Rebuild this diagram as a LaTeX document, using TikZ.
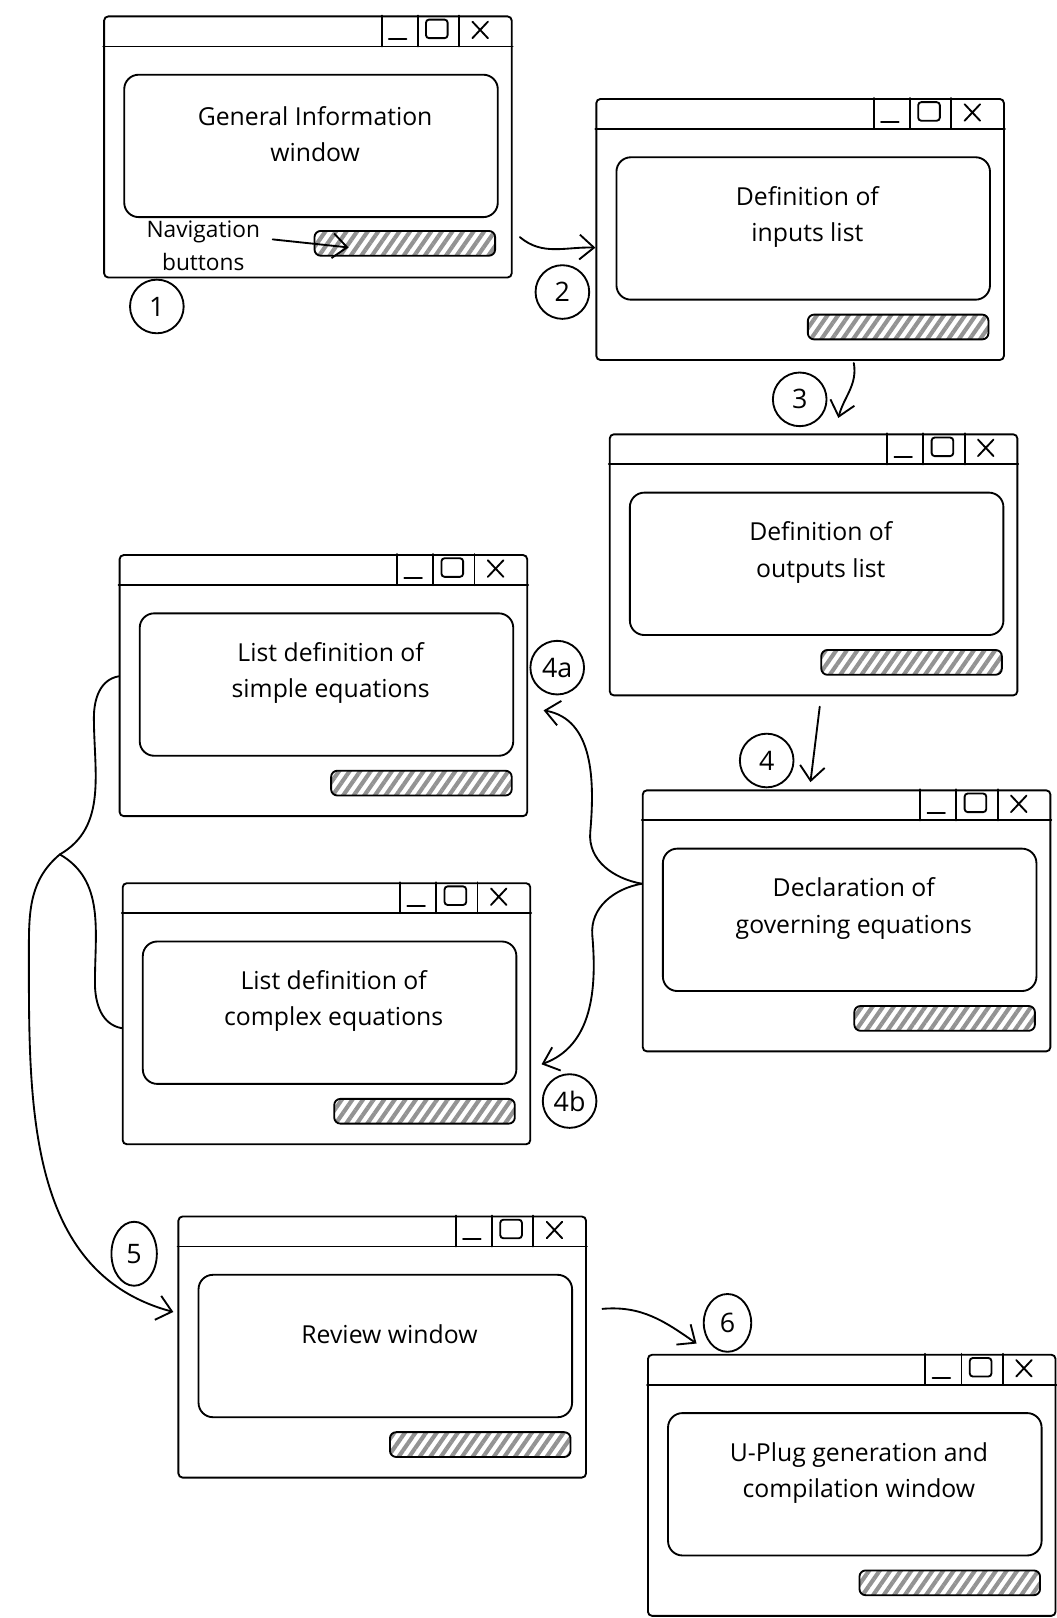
\documentclass[tikz,border=0pt]{standalone}
\usepackage{fontspec}
\setmainfont{Open Sans}
\usetikzlibrary{arrows.meta,patterns.meta,shapes.geometric}
\tikzset{
  font=\fontsize{12}{17.5}\selectfont,
  winline/.style={line width=0.9pt, line cap=round},
  appwin/.style={
    draw, winline, rounded corners=2pt, fill=white, anchor=north west,
    minimum width=197.5pt, minimum height=126.5pt, inner sep=0pt
  },
  panel/.style={draw, winline, rounded corners=7pt, minimum width=181pt, minimum height=69pt, inner sep=0pt},
  navbar/.style={
    draw, winline, rounded corners=3pt, anchor=south east,
    minimum width=87.5pt, minimum height=12pt, inner sep=0pt,
    pattern={Lines[angle=55,distance=4.2pt,line width=2pt]}, pattern color=gray!85
  },
  caption/.style={align=center, inner sep=1pt},
  stepnum/.style={ellipse, draw, winline, minimum width=26pt, minimum height=26pt, inner sep=0pt, font=\fontsize{13}{15}\selectfont},
  flow/.style={winline, -{Straight Barb[length=7pt,width=12pt,line width=0.9pt]}}
}

\begin{document}
\begin{tikzpicture}[x=0.5pt,y=0.5pt]
  \useasboundingbox (0,0) rectangle (1024,-1568);

  % windows
  \foreach \win/\xa/\ya/\txt in {
    gen/100/15/{General Information\\window},
    inp/577/95/{Definition of\\inputs list},
    outp/590/420/{Definition of\\outputs list},
    simp/115/537/{List definition of\\simple equations},
    cplx/118/855/{List definition of\\complex equations},
    gov/622/765/{Declaration of\\governing equations},
    rev/172/1178/{Review window},
    uplug/627/1312/{U-Plug generation and\\compilation window}} {
    \node[appwin] (\win) at (\xa,-\ya) {};
    \draw[winline] ([yshift=-15pt]\win.north west) -- ([yshift=-15pt]\win.north east);
    \foreach \dx in {63.5,46,26} {
      \draw[winline] ([xshift=-\dx pt]\win.north east) -- ++(0pt,-15pt);
    }
    \draw[winline] ([xshift=-60pt,yshift=-11.5pt]\win.north east) -- ++(8.5pt,0pt);
    \draw[winline, rounded corners=1.5pt] ([xshift=-42pt,yshift=-2pt]\win.north east) rectangle ++(10.5pt,-9pt);
    \draw[winline] ([xshift=-19.5pt,yshift=-3pt]\win.north east) -- ++(7.5pt,-8pt) ++(-7.5pt,0pt) -- ++(7.5pt,8pt);
    \node[panel] (\win-panel) at ([xshift=1.5pt,yshift=0.5pt]\win.center) {};
    \node[caption] (\win-txt) at ([xshift=2pt,yshift=5.5pt]\win-panel.center) {\txt};
    \node[navbar] (\win-nav) at ([xshift=-7.5pt,yshift=10pt]\win.south east) {};
  }

  \node[caption, font=\fontsize{11}{16}\selectfont] (navlbl) at (197,-238) {Navigation\\buttons};

  % step numbers
  \node[stepnum] (s1) at (152,-297) {1};
  \node[stepnum] (s2) at (545,-283) {2};
  \node[stepnum] (s3) at (775,-387) {3};
  \node[stepnum] (s4) at (743,-737) {4};
  \node[stepnum] (s4a) at (540,-647) {4a};
  \node[stepnum] (s4b) at (552,-1067) {4b};
  \node[stepnum, minimum width=22pt, minimum height=31pt] (s5) at (130,-1215) {5};
  \node[stepnum, minimum width=23pt, minimum height=28pt] (s6) at (705,-1282) {6};

  % connectors
  \draw[flow] ([xshift=5pt,yshift=3pt]navlbl.east) -- ([xshift=17.5pt,yshift=-2pt]gen-nav.west);
  \draw[flow] ([xshift=3.5pt,yshift=20pt]gen.south east) to[out=-40,in=178] ([yshift=-72.5pt]inp.north west);
  \draw[flow] ([xshift=26pt,yshift=-1pt]inp.south) to[out=-80,in=75] ([xshift=12pt,yshift=7.5pt]outp.north);
  \draw[flow] ([xshift=3pt,yshift=-5pt]outp.south) -- ([xshift=-17.5pt,yshift=3.5pt]gov.north);

  \draw[flow] ([yshift=18pt]gov.west) to[out=170,in=-95] ++(-25pt,25pt) to[out=85,in=-10] ([xshift=7.5pt,yshift=-12pt]simp.east);
  \draw[flow] ([yshift=18pt]gov.west) to[out=-170,in=95] ++(-24pt,-25pt) to[out=-85,in=20] ([xshift=5pt,yshift=-24.5pt]cplx.east);

  \coordinate (jn) at (58,-828);
  \draw[winline] ([yshift=4.5pt]simp.west) to[out=190,in=90] ++(-12pt,-20pt) to[out=-90,in=30] (jn);
  \draw[winline] ([yshift=-7pt]cplx.west) to[out=170,in=-90] ++(-13pt,22pt) to[out=90,in=-30] (jn);
  \draw[flow] (jn) to[out=-140,in=90] ++(-15pt,-45pt) to[out=-90,in=165] ([xshift=-2pt,yshift=17pt]rev.west);

  \draw[flow] ([xshift=7.5pt,yshift=18.5pt]rev.east) to[out=5,in=145] ([xshift=24pt,yshift=5pt]uplug.north west);
\end{tikzpicture}
\end{document}
